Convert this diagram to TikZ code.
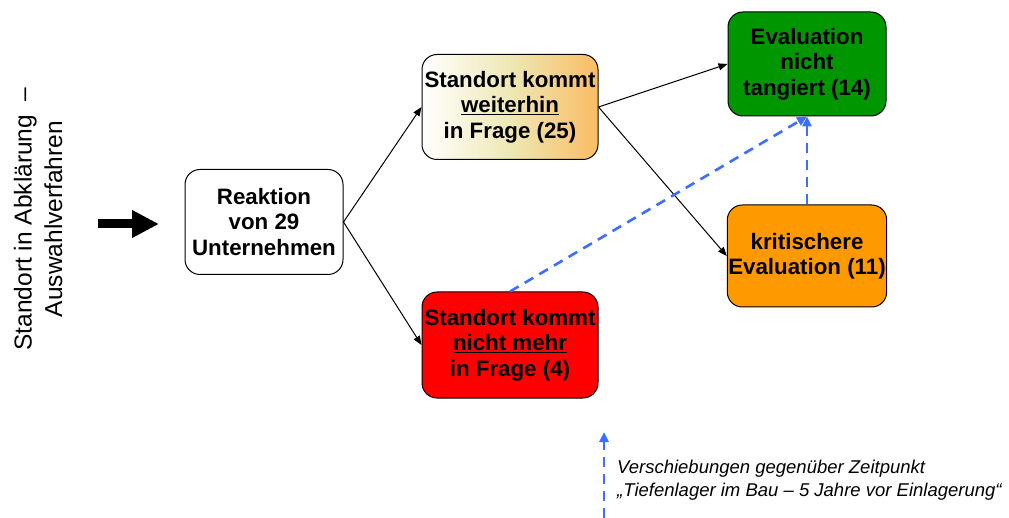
\documentclass[tikz,border=0pt]{standalone}
\usepackage{fontspec}
\setmainfont{Liberation Sans}
\usetikzlibrary{arrows.meta}
\definecolor{bluedash}{RGB}{60,110,255}
\definecolor{okgreen}{RGB}{0,150,0}
\definecolor{critorange}{RGB}{255,153,0}
\definecolor{gradorange}{RGB}{250,188,100}
\definecolor{gradmid}{RGB}{238,232,180}
\tikzset{
  box/.style={draw=black, line width=1pt, rounded corners=15pt, align=center,
    inner sep=1pt, font=\bfseries\fontsize{22.3}{25.5}\selectfont},
  conn/.style={draw=black, line width=1pt, -{Triangle[length=9pt,width=7pt]}},
  bluemove/.style={draw=bluedash, line width=2.6pt, dash pattern=on 10pt off 7pt,
    -{Triangle[length=10pt,width=9pt]}},
}
\begin{document}
\begin{tikzpicture}[x=1pt,y=-1pt]
\useasboundingbox (0,0) rectangle (1009,518);
% left vertical label
\node[rotate=90, align=center, font=\fontsize{24.5}{30.5}\selectfont] (lab) at (38,219)
  {Standort in Abklärung~~–\\Auswahlverfahren};
% big arrow
\coordinate (ba) at (98,224);
\coordinate (bb) at (159,224);
\draw[line width=9pt, -{Triangle[length=27pt,width=26pt]}] (ba) -- (bb);
% boxes
\node[box, fill=white, minimum width=158pt, minimum height=105pt] (reak) at (264,222)
  {Reaktion\\von 29\\Unternehmen};
\node[box, left color=white, right color=gradorange, middle color=gradmid,
  minimum width=176pt, minimum height=105pt] (weit) at (510,107)
  {Standort kommt\\\underline{weiterhin}\\in Frage (25)};
\node[box, fill=red, minimum width=176pt, minimum height=106pt] (nicht) at (510,345)
  {Standort kommt\\\underline{nicht mehr}\\in Frage (4)};
\node[box, fill=okgreen, minimum width=158pt, minimum height=104pt] (green) at (807,64)
  {Evaluation\\nicht\\tangiert (14)};
\node[box, fill=critorange, minimum width=157pt, minimum height=102pt] (crit) at (807,256)
  {kritischere\\Evaluation (11)};
% connectors
\draw[conn] (reak.east) -- (weit.west);
\draw[conn] (reak.east) -- (nicht.west);
\draw[conn] (weit.east) -- (green.west);
\draw[conn] (weit.east) -- (crit.west);
\draw[bluemove] (nicht.north) -- (green.south);
\draw[bluemove] (crit.north) -- (green.south);
% legend
\coordinate (lb) at (604,518);
\coordinate (lt) at (604,432);
\draw[bluemove] (lb) -- (lt);
\node[anchor=west, align=left, inner sep=0pt, font=\itshape\fontsize{18.5}{23.5}\selectfont] (note) at (617,480)
  {Verschiebungen gegenüber Zeitpunkt\\„Tiefenlager im Bau – 5 Jahre vor Einlagerung“};
\end{tikzpicture}
\end{document}
